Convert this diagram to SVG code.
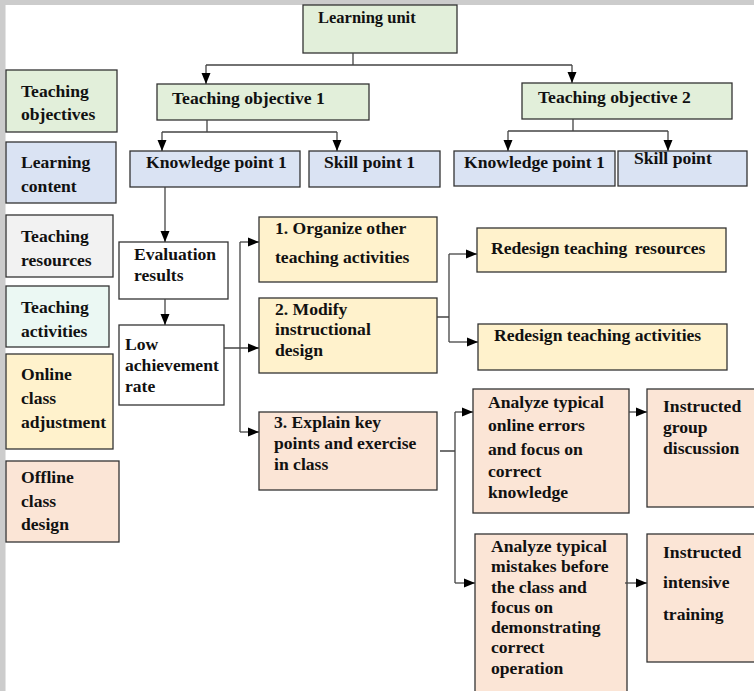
<svg xmlns="http://www.w3.org/2000/svg" width="754" height="691" viewBox="0 0 754 691">
  <style>
    text { font-family: "Liberation Serif", "Times New Roman", serif; font-weight: bold; font-size: 17.6px; fill: #111; }
    .box { stroke: #333; stroke-width: 1.3; }
    .g { fill: #e2efda; }
    .b { fill: #dae3f3; }
    .gr { fill: #f2f2f2; }
    .m { fill: #ebf8f3; }
    .y { fill: #fff2cc; }
    .p { fill: #fbe5d6; }
    .w { fill: #ffffff; }
    .conn path { fill: none; stroke: #444; stroke-width: 1.3; }
  </style>
  <defs>
    <marker id="arrow" markerUnits="userSpaceOnUse" markerWidth="12" markerHeight="12" viewBox="0 0 12 12" refX="11" refY="6" orient="auto">
      <path d="M0,1.5 L11,6 L0,10.5 Z" fill="#000"/>
    </marker>
  </defs>

  <!-- page frame -->
  <rect x="0" y="0" width="754" height="691" fill="#cccccc"/>
  <rect x="5" y="5" width="749" height="686" fill="#ffffff"/>
  <line x1="5.5" y1="5" x2="5.5" y2="691" stroke="#e4e4e4" stroke-width="1"/>

  <!-- legend -->
  <g id="legend-objectives">
    <rect class="box g" x="6" y="70" width="111" height="62"/>
    <text x="21" y="97">Teaching</text>
    <text x="21" y="120">objectives</text>
  </g>
  <g id="legend-content">
    <rect class="box b" x="6" y="142" width="110" height="61"/>
    <text x="21" y="168">Learning</text>
    <text x="21" y="192">content</text>
  </g>
  <g id="legend-resources">
    <rect class="box gr" x="6" y="215" width="107" height="62"/>
    <text x="21" y="242">Teaching</text>
    <text x="21" y="266">resources</text>
  </g>
  <g id="legend-activities">
    <rect class="box m" x="6" y="286" width="103" height="61"/>
    <text x="21" y="313">Teaching</text>
    <text x="21" y="337">activities</text>
  </g>
  <g id="legend-online">
    <rect class="box y" x="6" y="354" width="107" height="95"/>
    <text x="21" y="380">Online</text>
    <text x="21" y="404">class</text>
    <text x="21" y="428">adjustment</text>
  </g>
  <g id="legend-offline">
    <rect class="box p" x="6" y="461" width="113" height="81"/>
    <text x="21" y="483">Offline</text>
    <text x="21" y="507">class</text>
    <text x="21" y="530">design</text>
  </g>

  <!-- hierarchy -->
  <g id="learning-unit">
    <rect class="box g" x="303" y="5" width="154" height="48"/>
    <text x="318" y="23" style="font-size:16.5px">Learning unit</text>
  </g>
  <g id="objective-1">
    <rect class="box g" x="157" y="84" width="212" height="36"/>
    <text x="172" y="104">Teaching objective 1</text>
  </g>
  <g id="objective-2">
    <rect class="box g" x="522" y="83" width="210" height="36"/>
    <text x="538" y="103">Teaching objective 2</text>
  </g>
  <g id="knowledge-1a">
    <rect class="box b" x="130" y="151" width="170" height="36"/>
    <text x="146" y="168">Knowledge point 1</text>
  </g>
  <g id="skill-1">
    <rect class="box b" x="309" y="151" width="131" height="36"/>
    <text x="324" y="168">Skill point 1</text>
  </g>
  <g id="knowledge-1b">
    <rect class="box b" x="454" y="151" width="161" height="35"/>
    <text x="464" y="168">Knowledge point 1</text>
  </g>
  <g id="skill-2">
    <rect class="box b" x="618" y="151" width="129" height="35"/>
    <text x="634" y="164">Skill point</text>
  </g>

  <!-- evaluation path -->
  <g id="evaluation">
    <rect class="box w" x="119" y="242" width="109" height="57"/>
    <text x="134" y="260">Evaluation</text>
    <text x="134" y="281">results</text>
  </g>
  <g id="low-rate">
    <rect class="box w" x="119" y="325" width="105" height="80"/>
    <text x="125" y="350">Low</text>
    <text x="125" y="371">achievement</text>
    <text x="125" y="392">rate</text>
  </g>

  <!-- online adjustments -->
  <g id="organize">
    <rect class="box y" x="259" y="217" width="178" height="65"/>
    <text x="275" y="234">1. Organize other</text>
    <text x="275" y="263">teaching activities</text>
  </g>
  <g id="modify">
    <rect class="box y" x="259" y="298" width="178" height="75"/>
    <text x="275" y="315">2. Modify</text>
    <text x="275" y="335">instructional</text>
    <text x="275" y="356">design</text>
  </g>
  <g id="redesign-resources">
    <rect class="box y" x="477" y="228" width="249" height="44"/>
    <text x="491" y="254">Redesign teaching <tspan dx="3">resources</tspan></text>
  </g>
  <g id="redesign-activities">
    <rect class="box y" x="478" y="324" width="249" height="46"/>
    <text x="494" y="341">Redesign teaching activities</text>
  </g>

  <!-- offline design -->
  <g id="explain">
    <rect class="box p" x="259" y="412" width="178" height="78"/>
    <text x="274" y="428">3. Explain key</text>
    <text x="274" y="449">points and exercise</text>
    <text x="274" y="470">in class</text>
  </g>
  <g id="analyze-online">
    <rect class="box p" x="473" y="389" width="156" height="124"/>
    <text x="488" y="408">Analyze typical</text>
    <text x="488" y="431">online errors</text>
    <text x="488" y="455">and focus on</text>
    <text x="488" y="477">correct</text>
    <text x="488" y="498">knowledge</text>
  </g>
  <g id="group-discussion">
    <rect class="box p" x="647" y="389" width="110" height="118"/>
    <text x="663" y="412">Instructed</text>
    <text x="663" y="433">group</text>
    <text x="663" y="454">discussion</text>
  </g>
  <g id="analyze-mistakes">
    <rect class="box p" x="475" y="534" width="152" height="170"/>
    <text x="491" y="552">Analyze typical</text>
    <text x="491" y="572">mistakes before</text>
    <text x="491" y="593">the class and</text>
    <text x="491" y="613">focus on</text>
    <text x="491" y="633">demonstrating</text>
    <text x="491" y="653">correct</text>
    <text x="491" y="674">operation</text>
  </g>
  <g id="intensive-training">
    <rect class="box p" x="647" y="534" width="110" height="128"/>
    <text x="663" y="558">Instructed</text>
    <text x="663" y="588">intensive</text>
    <text x="663" y="620">training</text>
  </g>

  <!-- connectors -->
  <g id="connectors" class="conn">
    <path d="M353,53 V65 M206,65 H572"/>
    <path d="M206,65 V84" marker-end="url(#arrow)"/>
    <path d="M572,65 V83" marker-end="url(#arrow)"/>

    <path d="M207,120 V132 M162,132 H337"/>
    <path d="M162,132 V151" marker-end="url(#arrow)"/>
    <path d="M337,132 V151" marker-end="url(#arrow)"/>

    <path d="M573,119 V131 M508,131 H668"/>
    <path d="M508,131 V151" marker-end="url(#arrow)"/>
    <path d="M668,131 V151" marker-end="url(#arrow)"/>

    <path d="M165,187 V242" marker-end="url(#arrow)"/>
    <path d="M165,299 V325" marker-end="url(#arrow)"/>

    <path d="M240,242 V432"/>
    <path d="M224,348 H259" marker-end="url(#arrow)"/>
    <path d="M240,242 H259" marker-end="url(#arrow)"/>
    <path d="M240,432 H259" marker-end="url(#arrow)"/>

    <path d="M437,317 H449 M449,254 V342"/>
    <path d="M449,254 H477" marker-end="url(#arrow)"/>
    <path d="M449,342 H478" marker-end="url(#arrow)"/>

    <path d="M440,451 H455 M455,412 V583"/>
    <path d="M455,412 H473" marker-end="url(#arrow)"/>
    <path d="M455,583 H475" marker-end="url(#arrow)"/>

    <path d="M629,412 H647" marker-end="url(#arrow)"/>
    <path d="M625,583 H647" marker-end="url(#arrow)"/>
  </g>
</svg>
